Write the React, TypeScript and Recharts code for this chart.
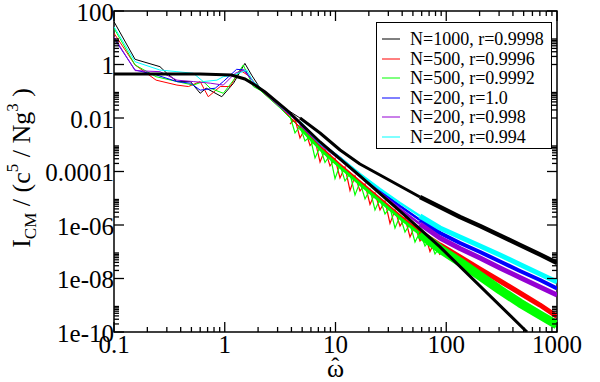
import React from 'react';
import { ComposedChart, Line, XAxis, YAxis, Legend, ReferenceArea } from 'recharts';

const LEFT = 114;
const RIGHT = 557;
const TOP = 11;
const BOTTOM = 332;
const FONT = '"Liberation Serif", "Times New Roman", serif';

// high-frequency part, same ω̂ grid for every run
const omegaHigh = [2.08, 3.15, 4.78, 7.25, 11, 16.6, 25.2, 38.2, 57.9, 87.8, 133, 202, 306, 463, 702, 1000];

// N=1000, r=0.9998
const n1000Omega = [0.1, 0.155, 0.26, 0.3, 0.37, 0.49, 0.6, 0.68, 0.94, 1.2, 1.52, 1.75];
const n1000Low = [39.8, 1.56, 0.83, 0.47, 0.23, 0.23, 0.084, 0.13, 0.0625, 0.2, 1.1, 0.4];
const n1000High = [0.132, 0.0306, 0.01, 2.75e-3, 6.37e-4, 1.91e-4, 7.4e-5, 2.87e-5, 1.11e-5, 4.71e-6, 1.99e-6, 9.18e-7, 4.05e-7, 1.79e-7, 7.89e-8, 3.8e-8];

// N=500, r=0.9996
const n500aOmega = [0.1, 0.155, 0.24, 0.37, 0.47, 0.6, 0.71, 0.91, 1.12, 1.37, 1.69];
const n500aLow = [14.7, 0.96, 0.26, 0.17, 0.15, 0.23, 0.0625, 0.15, 0.15, 0.62, 0.35];
const n500aHigh = [0.111, 0.0258, 4.61e-3, 8.24e-4, 1.75e-4, 4.05e-5, 9.37e-6, 2.17e-6, 5.47e-7, 1.79e-7, 6.37e-8, 2.26e-8, 8.07e-9, 2.87e-9, 1.02e-9, 3.8e-10];

// N=500, r=0.9992
const n500bOmega = [0.1, 0.155, 0.24, 0.37, 0.52, 0.64, 0.74, 0.97, 1.2, 1.47, 1.81];
const n500bLow = [22.6, 0.96, 0.35, 0.23, 0.17, 0.23, 0.13, 0.084, 0.26, 0.96, 0.15];
const n500bHigh = [0.11, 0.0237, 4.23e-3, 6.93e-4, 1.47e-4, 3.41e-5, 7.88e-6, 1.83e-6, 4.61e-7, 1.27e-7, 4.14e-8, 1.24e-8, 3.72e-9, 1.21e-9, 4.32e-10, 1.83e-10];

// N=200, r=1.0
const n200aOmega = [0.1, 0.155, 0.24, 0.37, 0.49, 0.6, 0.82, 0.97, 1.28, 1.52, 1.75];
const n200aLow = [9.5, 0.62, 0.41, 0.23, 0.2, 0.11, 0.13, 0.23, 0.66, 0.62, 0.26];
const n200aHigh = [0.13, 0.0281, 6.5e-3, 1.16e-3, 3.2e-4, 7.4e-5, 1.87e-5, 5.13e-6, 1.54e-6, 5.02e-7, 2.12e-7, 9.8e-8, 4.32e-8, 1.91e-8, 8.8e-9, 4.23e-9];

// N=200, r=0.998
const n200bOmega = [0.1, 0.155, 0.26, 0.37, 0.52, 0.74, 0.97, 1.24, 1.47, 1.81];
const n200bLow = [10.9, 0.59, 0.54, 0.26, 0.23, 0.2, 0.17, 0.47, 0.62, 0.23];
const n200bHigh = [0.12, 0.0258, 5.97e-3, 1.07e-3, 2.93e-4, 6.79e-5, 1.57e-5, 3.96e-6, 1.09e-6, 3.27e-7, 1.32e-7, 5.84e-8, 2.47e-8, 1.09e-8, 4.81e-9, 2.42e-9];

// N=200, r=0.994
const n200cOmega = [0.1, 0.155, 0.26, 0.37, 0.52, 0.64, 0.85, 0.97, 1.2, 1.58, 1.81];
const n200cLow = [25.9, 1.27, 0.62, 0.54, 0.47, 0.23, 0.26, 0.35, 0.4, 0.62, 0.23];
const n200cHigh = [0.14, 0.0281, 7.08e-3, 1.16e-3, 3.2e-4, 8.07e-5, 2.22e-5, 6.64e-6, 2.17e-6, 7.73e-7, 3.56e-7, 1.64e-7, 7.56e-8, 3.34e-8, 1.47e-8, 7.4e-9];

// the N=500 runs are very spiky between ω̂≈4 and ω̂≈90
const spikeOmega = [3.88, 4.31, 4.78, 5.3, 5.89, 6.53, 7.25, 8.04, 8.92, 9.9, 10.98, 12.18, 13.52, 15, 16.64, 18.47, 20.49, 22.73, 25.22, 27.99, 31.05, 34.46, 38.23, 42.42, 47.07, 52.22, 57.94, 64.29, 71.33, 79.14, 87.8];
const n500aSpikes = [5.97e-3, 9.18e-3, 1.79e-3, 3.88e-3, 9.37e-4, 1.51e-3, 2.26e-4, 6.64e-4, 1.61e-4, 3.06e-4, 5.71e-5, 1.47e-4, 1.95e-5, 6.8e-5, 1.87e-5, 3.41e-5, 5.84e-6, 1.57e-5, 3.64e-6, 7.88e-6, 1.14e-6, 3.64e-6, 9.18e-7, 1.83e-6, 3.56e-7, 9.18e-7, 2.52e-7, 4.61e-7, 1.02e-7, 2.52e-7, 7.56e-8];
const n500bSpikes = [0.0119, 2.75e-3, 5.02e-3, 1.38e-3, 2.03e-3, 3.2e-4, 8.24e-4, 2.17e-4, 4.14e-4, 5.47e-5, 1.75e-4, 4.42e-5, 8.41e-5, 1.32e-5, 4.05e-5, 9.37e-6, 2.12e-5, 3.64e-6, 9.37e-6, 2.58e-6, 4.51e-6, 7.73e-7, 2.17e-6, 5.47e-7, 1.09e-6, 2.31e-7, 5.47e-7, 1.64e-7, 2.87e-7, 8.24e-8, 1.51e-7];

// analytic curve (thick black)
const theoryOmega = [0.1, 0.6, 1.15, 1.52, 1.87, 2.31, 3.63, 7.25, 16.6, 38.2, 87.8, 536];
const theoryValues = [0.44, 0.44, 0.405, 0.287, 0.171, 0.0937, 0.0199, 1.27e-3, 6.8e-5, 3.33e-6, 1.51e-7, 1e-10];

const xMajor = [0.1, 1, 10, 100, 1000];
const xTickLabels = ['0.1', '1', '10', '100', '1000'];
const yMajor = [1e-10, 1e-8, 1e-6, 1e-4, 1e-2, 1, 100];
const yTickLabels = ['1e-10', '1e-08', '1e-06', '0.0001', '0.01', '1', '100'];

const series = [
  { name: 'N=1000, r=0.9998', color: '#000000', omega: n1000Omega, low: n1000Low, high: n1000High, bandMid: 3, bandEnd: 4.5 },
  { name: 'N=500, r=0.9996', color: '#ff0000', omega: n500aOmega, low: n500aLow, high: n500aHigh, bandMid: 3, bandEnd: 5 },
  { name: 'N=500, r=0.9992', color: '#00ff00', omega: n500bOmega, low: n500bLow, high: n500bHigh, bandMid: 3, bandEnd: 9 },
  { name: 'N=200, r=1.0', color: '#0000ff', omega: n200aOmega, low: n200aLow, high: n200aHigh, bandMid: 2.5, bandEnd: 4 },
  { name: 'N=200, r=0.998', color: '#9400d3', omega: n200bOmega, low: n200bLow, high: n200bHigh, bandMid: 2.5, bandEnd: 5 },
  { name: 'N=200, r=0.994', color: '#00ffff', omega: n200cOmega, low: n200cLow, high: n200cHigh, bandMid: 2.5, bandEnd: 5 },
];

const spikes = [
  { key: 'red-spikes', color: '#ff0000', values: n500aSpikes },
  { key: 'green-spikes', color: '#00ff00', values: n500bSpikes },
];

const toPoints = (w: number[], v: number[]) => w.map((x, i) => ({ w: x, v: v[i] }));

const theoryData = toPoints(theoryOmega, theoryValues);

const xTicks: number[] = [];
for (let k = -1; k <= 2; k++) {
  for (let m = 1; m <= 9; m++) xTicks.push(m * Math.pow(10, k));
}
xTicks.push(1000);

const yTicks: number[] = [...yMajor];
for (let k = -10; k <= 0; k += 2) {
  for (let m = 2; m <= 9; m++) yTicks.push(m * Math.pow(10, k));
}

const findMajor = (list: number[], v: number) =>
  list.findIndex((m) => Math.abs(Math.log10(m) - Math.log10(v)) < 1e-6);

const XTick = (props: any) => {
  const { x, payload } = props;
  const idx = findMajor(xMajor, payload.value);
  const len = idx >= 0 ? 10 : 5;
  return (
    <g>
      <line x1={x} y1={BOTTOM} x2={x} y2={BOTTOM - len} stroke="#000" strokeWidth={1.3} />
      <line x1={x} y1={TOP} x2={x} y2={TOP + len} stroke="#000" strokeWidth={1.3} />
      {idx >= 0 && (
        <text x={x} y={BOTTOM + 21} textAnchor="middle" fontFamily={FONT} fontSize={25} fill="#000">
          {xTickLabels[idx]}
        </text>
      )}
    </g>
  );
};

const YTick = (props: any) => {
  const { y, payload } = props;
  const idx = findMajor(yMajor, payload.value);
  const len = idx >= 0 ? 10 : 5;
  return (
    <g>
      <line x1={LEFT} y1={y} x2={LEFT + len} y2={y} stroke="#000" strokeWidth={1.3} />
      <line x1={RIGHT} y1={y} x2={RIGHT - len} y2={y} stroke="#000" strokeWidth={1.3} />
      {idx >= 0 && (
        <text x={LEFT} y={y + 9.5} textAnchor="end" fontFamily={FONT} fontSize={25} fill="#000">
          {yTickLabels[idx]}
        </text>
      )}
    </g>
  );
};

const YLabel = () => (
  <text transform="translate(30,168) rotate(-90)" textAnchor="middle" fontFamily={FONT} fontSize={26} fill="#000">
    I
    <tspan fontSize={17} dy={6}>CM</tspan>
    <tspan dy={-6}> / (c</tspan>
    <tspan fontSize={17} dy={-12}>5</tspan>
    <tspan dy={12}> / Ng</tspan>
    <tspan fontSize={17} dy={-12}>3</tspan>
    <tspan dy={12}> )</tspan>
  </text>
);

// ω with a circumflex set above it, kept as one text
const XLabel = () => (
  <text x={327} y={377} fontFamily={FONT} fontSize={26} fill="#000">
    {'\u03c9'}
    <tspan dx={-13} dy={-3} fontSize={24}>{'\u02c6'}</tspan>
  </text>
);

const LegendBox = () => (
  <svg width={176} height={127} style={{ display: 'block' }}>
    <rect x={0.5} y={0.5} width={175} height={126} fill="#fff" stroke="#000" strokeWidth={1} />
    {series.map((s, i) => {
      const cy = Math.round(17 + 19.5 * i);
      return (
        <g key={s.name}>
          <line x1={6} x2={24} y1={cy} y2={cy} stroke={s.color} strokeWidth={1} />
          <text x={34} y={17 + 19.5 * i + 6} fontFamily={FONT} fontSize={18} fill="#000">
            {s.name}
          </text>
        </g>
      );
    })}
  </svg>
);

const App: React.FC = () => {
  return (
    <div style={{ position: 'absolute', left: 0, top: 0, background: '#fff' }}>
      <ComposedChart width={600} height={382} margin={{ top: TOP, right: 600 - RIGHT, bottom: 20, left: LEFT - 60 }}>
        <XAxis
          dataKey="w"
          type="number"
          scale="log"
          domain={[0.1, 1000]}
          allowDataOverflow
          ticks={xTicks}
          interval={0}
          tick={<XTick />}
          tickLine={false}
          axisLine={false}
          tickSize={0}
          tickMargin={0}
          height={30}
          label={<XLabel />}
        />
        <YAxis
          dataKey="v"
          type="number"
          scale="log"
          domain={[1e-10, 100]}
          allowDataOverflow
          ticks={yTicks}
          interval={0}
          tick={<YTick />}
          tickLine={false}
          axisLine={false}
          tickSize={0}
          tickMargin={0}
          width={60}
          label={<YLabel />}
        />
        {series.map((s) => (
          <Line
            key={s.name}
            data={[...toPoints(s.omega, s.low), ...toPoints(omegaHigh, s.high)]}
            dataKey="v"
            stroke={s.color}
            strokeWidth={1}
            dot={false}
            isAnimationActive={false}
          />
        ))}
        {spikes.map((sp) => (
          <Line
            key={sp.key}
            data={toPoints(spikeOmega, sp.values)}
            dataKey="v"
            stroke={sp.color}
            strokeWidth={1.2}
            dot={false}
            isAnimationActive={false}
            legendType="none"
          />
        ))}
        {series.map((s) => (
          <Line
            key={s.name + '-mid'}
            data={toPoints(omegaHigh, s.high).filter((p) => p.w >= 4 && p.w <= 60)}
            dataKey="v"
            stroke={s.color}
            strokeWidth={s.bandMid}
            strokeLinejoin="round"
            dot={false}
            isAnimationActive={false}
            legendType="none"
          />
        ))}
        {series.map((s) => (
          <Line
            key={s.name + '-end'}
            data={toPoints(omegaHigh, s.high).filter((p) => p.w >= 57)}
            dataKey="v"
            stroke={s.color}
            strokeWidth={s.bandEnd}
            strokeLinejoin="round"
            dot={false}
            isAnimationActive={false}
            legendType="none"
          />
        ))}
        <Line
          data={theoryData}
          dataKey="v"
          stroke="#000"
          strokeWidth={3}
          dot={false}
          isAnimationActive={false}
          legendType="none"
        />
        <ReferenceArea x1={0.1} x2={1000} y1={1e-10} y2={100} fill="none" stroke="#000" strokeWidth={1.5} />
        <Legend
          layout="vertical"
          align="center"
          verticalAlign="middle"
          content={() => <LegendBox />}
          wrapperStyle={{ left: 376, top: 22, width: 176, height: 127 }}
        />
      </ComposedChart>
    </div>
  );
};

export default App;
